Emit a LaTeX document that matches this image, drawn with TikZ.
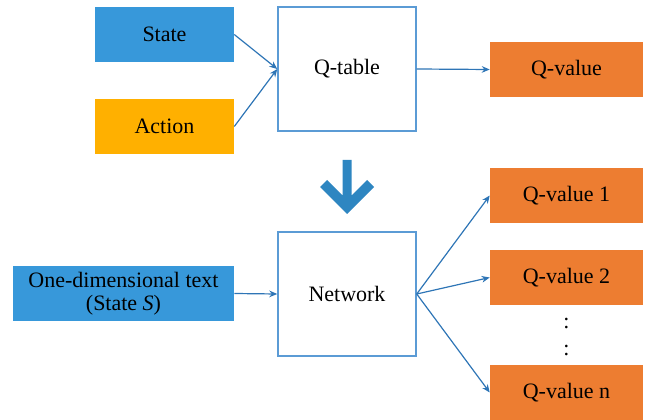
\documentclass[tikz,border=0pt]{standalone}
\usepackage{fontspec}
\setmainfont{Liberation Serif}
\usepackage{tikz}
\usetikzlibrary{arrows.meta}
\usepackage{xcolor}
\definecolor{stateblue}{RGB}{55,152,218}
\definecolor{actionorange}{RGB}{255,176,0}
\definecolor{qorange}{RGB}{237,125,49}
\definecolor{frameblue}{RGB}{91,155,213}
\definecolor{lineblue}{RGB}{46,117,182}
\definecolor{bigblue}{RGB}{46,134,193}

\tikzset{
  box/.style={minimum height=41.25pt,inner sep=0pt,align=center,
    font=\fontsize{16.5}{19}\selectfont},
  statebox/.style={box,fill=stateblue,minimum width=104.25pt},
  actionbox/.style={box,fill=actionorange,minimum width=104.25pt},
  qbox/.style={box,fill=qorange,minimum width=114.75pt},
  mainbox/.style={box,draw=frameblue,line width=1.1pt,minimum width=103.5pt,minimum height=93pt},
  link/.style={->,lineblue,line width=0.9pt}
}

\begin{document}
\begin{tikzpicture}[x=0.75pt,y=-0.75pt,>={Stealth[length=6pt,width=5pt]}]
    \useasboundingbox (0,0) rectangle (656,420);

    % Upper part: tabular Q-learning
    \node[statebox]  (state)  at (164.5,34.5)  {State};
    \node[actionbox] (action) at (164.5,126.5) {Action};
    \node[mainbox]   (qtable) at (347,69)      {Q-table};
    \node[qbox]      (qvalue) at (566.5,69.5)  {Q-value};

    \draw[link] (state.east)  -- (qtable.west);
    \draw[link] (action.east) -- (qtable.west);
    \draw[link] (qtable.east) -- (qvalue.west);

    % Transition arrow
    \fill[bigblue] (342.5,160) -- (351.5,160) -- (351.5,195.5) -- (367,180)
        -- (374,187) -- (347,214) -- (320,187) -- (327,180)
        -- (342.5,195.5) -- cycle;

    % Lower part: deep Q-network
    \node[statebox,minimum width=165.75pt] (input) at (123.5,293.5)
        {One-dimensional text\\[-2pt](State \textit{S})};
    \node[mainbox] (network) at (347,294) {Network};

    \foreach \n/\y/\t in {1/195.5/Q-value 1, 2/277.5/Q-value 2, n/392.5/Q-value n}
        \node[qbox] (qv\n) at (566.5,\y) {\t};

    \draw[link] (input.east) -- (network.west);
    \foreach \n in {1,2,n}
        \draw[link] (network.east) -- (qv\n.west);

    % Dots
    \foreach \y in {323,350}
        \node[font=\fontsize{16.5}{19}\selectfont] (dot\y) at (566.5,\y) {:};
\end{tikzpicture}
\end{document}
